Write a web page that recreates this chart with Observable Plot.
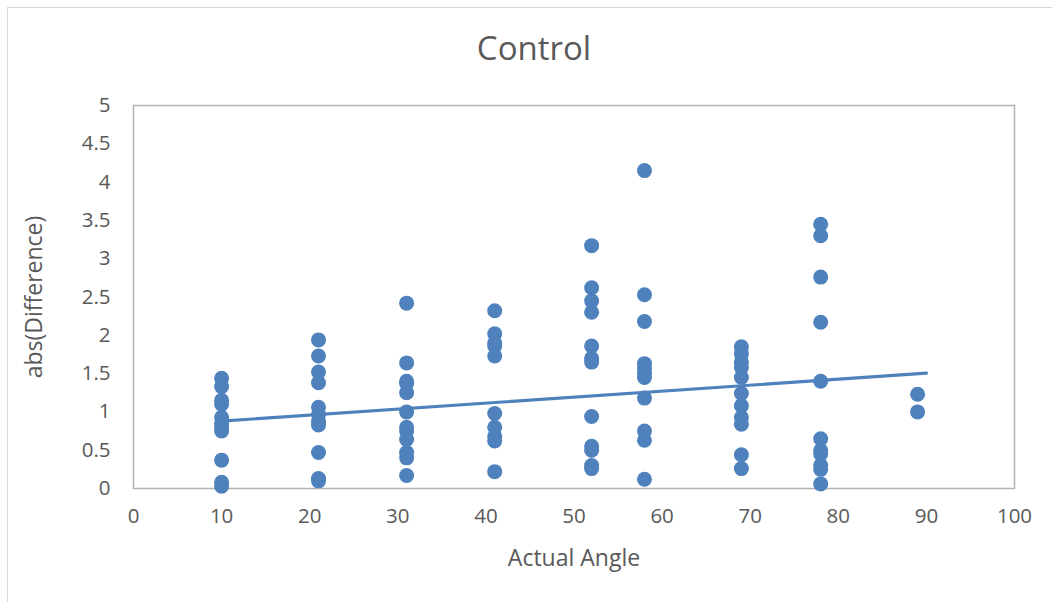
<!DOCTYPE html>
<html>
<head>
<meta charset="utf-8">
<script src="https://cdn.jsdelivr.net/npm/d3@7"></script>
<script src="https://cdn.jsdelivr.net/npm/@observablehq/plot@0.6"></script>
<style>
  html, body { margin: 0; padding: 0; background: #fff; overflow: hidden; }
  #wrap { position: relative; width: 1052px; height: 602px; }
  #border { position: absolute; left: 7px; top: 7px; width: 1100px; height: 700px; border: 1px solid #d9d9d9; box-sizing: border-box; }
  #chart { position: absolute; left: 0; top: 0; }
</style>
</head>
<body>
<div id="wrap"><div id="border"></div><div id="chart"></div></div>
<script>
const title = "Control";
const xLabel = "Actual Angle";
const yLabel = "abs(Difference)";
const xTicks = [0, 10, 20, 30, 40, 50, 60, 70, 80, 90, 100];
const yTicks = [0, 0.5, 1, 1.5, 2, 2.5, 3, 3.5, 4, 4.5, 5];

const angles = [10, 21, 31, 41, 52, 58, 69, 78, 89];
const diffs10 = [1.44, 1.33, 1.15, 1.1, 0.93, 0.85, 0.8, 0.75, 0.37, 0.08, 0.03];
const diffs21 = [1.94, 1.73, 1.52, 1.38, 1.06, 0.97, 0.88, 0.83, 0.47, 0.13, 0.1];
const diffs31 = [2.42, 1.64, 1.4, 1.37, 1.25, 1.0, 0.8, 0.75, 0.64, 0.47, 0.4, 0.17];
const diffs41 = [2.32, 2.02, 1.9, 1.86, 1.73, 0.98, 0.8, 0.68, 0.62, 0.22];
const diffs52 = [3.17, 2.62, 2.45, 2.3, 1.86, 1.7, 1.65, 0.94, 0.55, 0.5, 0.3, 0.26];
const diffs58 = [4.15, 2.53, 2.18, 1.63, 1.57, 1.5, 1.45, 1.18, 0.75, 0.63, 0.12];
const diffs69 = [1.85, 1.76, 1.65, 1.58, 1.45, 1.24, 1.08, 0.93, 0.84, 0.44, 0.26];
const diffs78 = [3.45, 3.3, 2.76, 2.17, 1.4, 0.65, 0.5, 0.45, 0.3, 0.25, 0.06];
const diffs89 = [1.23, 1.0];

// Linear trendline (start and end)
const trendAngles = [10, 90];
const trendDiffs = [0.88, 1.505];

const groups = [diffs10, diffs21, diffs31, diffs41, diffs52, diffs58, diffs69, diffs78, diffs89];
const data = groups.flatMap((g, i) => g.map(v => ({angle: angles[i], diff: v})));
const trend = trendAngles.map((a, i) => ({angle: a, diff: trendDiffs[i]}));

const blue = "#4f81bd";
const grey = "#595959";
const font = "'Open Sans', Lato, sans-serif";

const chart = Plot.plot({
  width: 1052,
  height: 602,
  marginLeft: 133,
  marginRight: 38,
  marginTop: 105,
  marginBottom: 114,
  style: {fontFamily: font, fontSize: "20.5px", color: grey, background: "transparent"},
  x: {domain: [0, 100], ticks: xTicks, label: null},
  y: {domain: [0, 5], ticks: yTicks, label: null},
  marks: [
    Plot.frame({stroke: "#b3b3b3", strokeWidth: 1.5}),
    Plot.axisX({ticks: xTicks, tickSize: 0, tickPadding: 20, fill: grey, fontSize: 20.5, label: null}),
    Plot.axisY({ticks: yTicks, tickSize: 0, tickPadding: 23, fill: grey, fontSize: 20.5, tickFormat: d => String(d), label: null}),
    Plot.dot(data, {x: "angle", y: "diff", r: 7.5, fill: blue, stroke: "none"}),
    Plot.line(trend, {x: "angle", y: "diff", stroke: blue, strokeWidth: 3.2}),
    Plot.text([title], {frameAnchor: "top", dx: -40, dy: -56, fontSize: 33, fill: grey, lineAnchor: "middle"}),
    Plot.text([xLabel], {frameAnchor: "bottom", dy: 70, fontSize: 23, fill: grey, lineAnchor: "middle"}),
    Plot.text([yLabel], {frameAnchor: "left", dx: -99, dy: 0, rotate: -90, fontSize: 23, fill: grey, textAnchor: "middle", lineAnchor: "middle"})
  ]
});
document.getElementById("chart").appendChild(chart);
</script>
</body>
</html>
